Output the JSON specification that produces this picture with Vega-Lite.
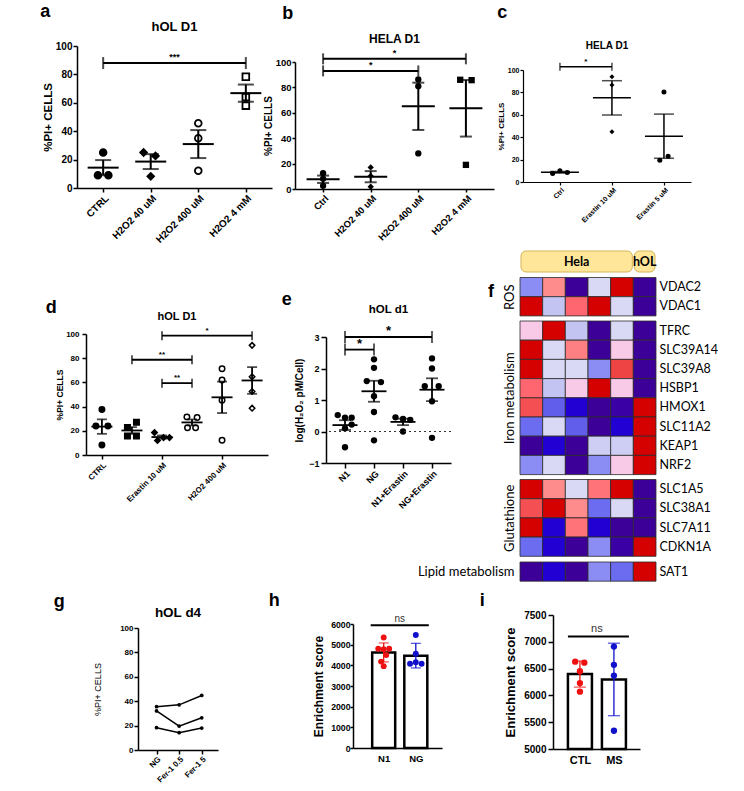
{
"$schema":"https://vega.github.io/schema/vega-lite/v6.json",
"padding":0,
"background":"white",
"spacing":3,
"vconcat":[
{"spacing":-10,"hconcat":[
 {"width":50,"height":1,"data":{"values":[]},"mark":"point"},
 {"spacing":0,"vconcat":[
  {"width":1,"height":3,"data":{"values":[]},"mark":"point"},
  {"title":{"text":"a","anchor":"start","fontSize":18,"dx":-2,"offset":0},"spacing":0,"vconcat":[
   {"title":{"text":"hOL D1","fontSize":13,"offset":7},
    "width":195,"height":142,
    "data":{"values":[
     {"g":"CTRL","i":1,"xp":1,"v":25},{"g":"CTRL","i":1,"xp":0.89,"v":9},{"g":"CTRL","i":1,"xp":1.11,"v":9},
     {"g":"H2O2 40 uM","i":2,"xp":1.85,"v":25},{"g":"H2O2 40 uM","i":2,"xp":2.1,"v":22.6},{"g":"H2O2 40 uM","i":2,"xp":2,"v":8.2},
     {"g":"H2O2 400 uM","i":3,"xp":3,"v":45.6},{"g":"H2O2 400 uM","i":3,"xp":3,"v":35},{"g":"H2O2 400 uM","i":3,"xp":3,"v":12.2},
     {"g":"H2O2 4 mM","i":4,"xp":4,"v":78.4},{"g":"H2O2 4 mM","i":4,"xp":4,"v":64},{"g":"H2O2 4 mM","i":4,"xp":4,"v":58}
    ]},
    "layer":[
     {"mark":{"type":"point","filled":true,"size":45,"stroke":"black","strokeWidth":1.8,"opacity":1},
      "encoding":{
       "x":{"field":"xp","type":"quantitative","scale":{"domain":[0.45,4.55],"nice":false,"zero":false},
            "axis":{"values":[1,2,3,4],"labelExpr":"['CTRL','H2O2 40 uM','H2O2 400 uM','H2O2 4 mM'][datum.value-1]","labelAngle":-45,"labelAlign":"right","labelBaseline":"top","labelFontSize":10,"title":null,"tickSize":4,"labelPadding":1,"domainWidth":1.5,"tickWidth":1.5}},
       "y":{"field":"v","type":"quantitative","scale":{"domain":[0,100],"nice":false},
            "axis":{"values":[0,20,40,60,80,100],"title":"%PI+ CELLS","labelOverlap":false,"labelFontSize":10,"titleFontSize":11.5,"tickSize":4,"labelPadding":1,"titlePadding":2,"domainWidth":1.5,"tickWidth":1.5}},
       "shape":{"field":"g","type":"nominal","scale":{"domain":["CTRL","H2O2 40 uM","H2O2 400 uM","H2O2 4 mM"],"range":["circle","diamond","circle","square"]},"legend":null},
       "fill":{"field":"g","type":"nominal","scale":{"domain":["CTRL","H2O2 40 uM","H2O2 400 uM","H2O2 4 mM"],"range":["black","black","white","white"]},"legend":null}}},
     {"mark":{"type":"errorbar","extent":"stderr","orient":"vertical","ticks":{"size":16},"thickness":2,"color":"black"},
      "encoding":{"x":{"field":"i","type":"quantitative","title":null},"y":{"field":"v","type":"quantitative","axis":{"values":[0,20,40,60,80,100],"title":"%PI+ CELLS","labelOverlap":false,"labelFontSize":10,"titleFontSize":11.5,"tickSize":4,"labelPadding":1,"titlePadding":2,"domainWidth":1.5,"tickWidth":1.5}}}},
     {"mark":{"type":"tick","orient":"horizontal","size":31,"thickness":2,"color":"black"},
      "encoding":{"x":{"field":"i","type":"quantitative","title":null},"y":{"field":"v","aggregate":"mean","type":"quantitative","axis":{"values":[0,20,40,60,80,100],"title":"%PI+ CELLS","labelOverlap":false,"labelFontSize":10,"titleFontSize":11.5,"tickSize":4,"labelPadding":1,"titlePadding":2,"domainWidth":1.5,"tickWidth":1.5}}}},
     {"data":{"values":[{"x1":1,"x2":4,"y":88,"lab":"***"}]},"layer":[
      {"mark":{"type":"rule","strokeWidth":2,"color":"black"},"encoding":{"x":{"field":"x1","type":"quantitative","title":null},"x2":{"field":"x2"},"y":{"field":"y","type":"quantitative","axis":{"values":[0,20,40,60,80,100],"title":"%PI+ CELLS","labelOverlap":false,"labelFontSize":10,"titleFontSize":11.5,"tickSize":4,"labelPadding":1,"titlePadding":2,"domainWidth":1.5,"tickWidth":1.5}}}},
      {"transform":[{"fold":["x1","x2"],"as":["k","xv"]}],"mark":{"type":"tick","orient":"vertical","size":12,"thickness":2,"color":"black"},"encoding":{"x":{"field":"xv","type":"quantitative","title":null},"y":{"field":"y","type":"quantitative","axis":{"values":[0,20,40,60,80,100],"title":"%PI+ CELLS","labelOverlap":false,"labelFontSize":10,"titleFontSize":11.5,"tickSize":4,"labelPadding":1,"titlePadding":2,"domainWidth":1.5,"tickWidth":1.5}}}},
      {"transform":[{"fold":["x1","x2"],"as":["k","xv"]},{"aggregate":[{"op":"mean","field":"xv","as":"xm"}],"groupby":["y","lab"]}],"mark":{"type":"text","baseline":"bottom","dy":-1,"fontSize":9,"fontWeight":"bold","color":"black"},"encoding":{"x":{"field":"xm","type":"quantitative","title":null},"y":{"field":"y","type":"quantitative","axis":{"values":[0,20,40,60,80,100],"title":"%PI+ CELLS","labelOverlap":false,"labelFontSize":10,"titleFontSize":11.5,"tickSize":4,"labelPadding":1,"titlePadding":2,"domainWidth":1.5,"tickWidth":1.5}},"text":{"field":"lab"}}}
     ]}
    ]}
  ]}
 ]},
 {"width":1,"height":1,"data":{"values":[]},"mark":"point"},
 {"spacing":0,"vconcat":[
  {"width":1,"height":4,"data":{"values":[]},"mark":"point"},
  {"title":{"text":"b","anchor":"start","fontSize":18,"dx":19,"offset":10},"spacing":0,"vconcat":[
   {"title":{"text":"HELA D1","fontSize":12,"offset":3},
    "width":199,"height":127,
    "data":{"values":[
     {"g":"Ctrl","i":1,"xp":1,"v":12.5},{"g":"Ctrl","i":1,"xp":1,"v":8},{"g":"Ctrl","i":1,"xp":1,"v":2.5},
     {"g":"H2O2 40 uM","i":2,"xp":2,"v":17},{"g":"H2O2 40 uM","i":2,"xp":2,"v":10.3},{"g":"H2O2 40 uM","i":2,"xp":2,"v":1.8},
     {"g":"H2O2 400 uM","i":3,"xp":3,"v":86.3},{"g":"H2O2 400 uM","i":3,"xp":3,"v":81},{"g":"H2O2 400 uM","i":3,"xp":3,"v":28},
     {"g":"H2O2 4 mM","i":4,"xp":3.88,"v":86},{"g":"H2O2 4 mM","i":4,"xp":4.12,"v":85.7},{"g":"H2O2 4 mM","i":4,"xp":4,"v":19}
    ]},
    "layer":[
     {"mark":{"type":"point","filled":true,"size":40,"color":"black","opacity":1},
      "encoding":{
       "x":{"field":"xp","type":"quantitative","scale":{"domain":[0.41,4.59],"nice":false,"zero":false},
            "axis":{"values":[1,2,3,4],"labelExpr":"['Ctrl','H2O2 40 uM','H2O2 400 uM','H2O2 4 mM'][datum.value-1]","labelAngle":-45,"labelAlign":"right","labelBaseline":"top","labelFontSize":9.5,"title":null,"tickSize":3,"labelPadding":1,"domainWidth":1.5,"tickWidth":1.5}},
       "y":{"field":"v","type":"quantitative","scale":{"domain":[0,100],"nice":false},
            "axis":{"values":[0,20,40,60,80,100],"title":"%PI+ CELLS","labelOverlap":false,"labelFontSize":9.5,"titleFontSize":10,"tickSize":3,"labelPadding":1,"titlePadding":2,"domainWidth":1.5,"tickWidth":1.5}},
       "shape":{"field":"g","type":"nominal","scale":{"domain":["Ctrl","H2O2 40 uM","H2O2 400 uM","H2O2 4 mM"],"range":["circle","square","triangle-up","triangle-down"]},"legend":null}}},
     {"mark":{"type":"errorbar","extent":"stderr","orient":"vertical","ticks":{"size":12},"thickness":2,"color":"black"},
      "encoding":{"x":{"field":"i","type":"quantitative","title":null},"y":{"field":"v","type":"quantitative","axis":{"values":[0,20,40,60,80,100],"title":"%PI+ CELLS","labelOverlap":false,"labelFontSize":9.5,"titleFontSize":10,"tickSize":3,"labelPadding":1,"titlePadding":2,"domainWidth":1.5,"tickWidth":1.5}}}},
     {"mark":{"type":"tick","orient":"horizontal","size":33,"thickness":2,"color":"black"},
      "encoding":{"x":{"field":"i","type":"quantitative","title":null},"y":{"field":"v","aggregate":"mean","type":"quantitative","axis":{"values":[0,20,40,60,80,100],"title":"%PI+ CELLS","labelOverlap":false,"labelFontSize":9.5,"titleFontSize":10,"tickSize":3,"labelPadding":1,"titlePadding":2,"domainWidth":1.5,"tickWidth":1.5}}}},
     {"data":{"values":[{"x1":1,"x2":4,"y":102.5,"lab":"*"},{"x1":1,"x2":3,"y":93,"lab":"*"}]},"layer":[
      {"mark":{"type":"rule","strokeWidth":2,"color":"black"},"encoding":{"x":{"field":"x1","type":"quantitative","title":null},"x2":{"field":"x2"},"y":{"field":"y","type":"quantitative","axis":{"values":[0,20,40,60,80,100],"title":"%PI+ CELLS","labelOverlap":false,"labelFontSize":9.5,"titleFontSize":10,"tickSize":3,"labelPadding":1,"titlePadding":2,"domainWidth":1.5,"tickWidth":1.5}}}},
      {"transform":[{"fold":["x1","x2"],"as":["k","xv"]}],"mark":{"type":"tick","orient":"vertical","size":11,"thickness":2,"color":"black"},"encoding":{"x":{"field":"xv","type":"quantitative","title":null},"y":{"field":"y","type":"quantitative","axis":{"values":[0,20,40,60,80,100],"title":"%PI+ CELLS","labelOverlap":false,"labelFontSize":9.5,"titleFontSize":10,"tickSize":3,"labelPadding":1,"titlePadding":2,"domainWidth":1.5,"tickWidth":1.5}}}},
      {"transform":[{"fold":["x1","x2"],"as":["k","xv"]},{"aggregate":[{"op":"mean","field":"xv","as":"xm"}],"groupby":["y","lab"]}],"mark":{"type":"text","baseline":"bottom","dy":-1,"fontSize":9,"fontWeight":"bold","color":"black"},"encoding":{"x":{"field":"xm","type":"quantitative","title":null},"y":{"field":"y","type":"quantitative","axis":{"values":[0,20,40,60,80,100],"title":"%PI+ CELLS","labelOverlap":false,"labelFontSize":9.5,"titleFontSize":10,"tickSize":3,"labelPadding":1,"titlePadding":2,"domainWidth":1.5,"tickWidth":1.5}},"text":{"field":"lab"}}}
     ]}
    ]}
  ]}
 ]},
 {"width":13,"height":1,"data":{"values":[]},"mark":"point"},
 {"spacing":0,"vconcat":[
  {"width":1,"height":3,"data":{"values":[]},"mark":"point"},
  {"title":{"text":"c","anchor":"start","fontSize":18,"dx":0,"offset":19},"spacing":0,"vconcat":[
   {"title":{"text":"HELA D1","fontSize":10,"offset":7},
    "width":168,"height":112,
    "data":{"values":[
     {"g":"Ctrl","i":1,"xp":0.86,"v":7.5},{"g":"Ctrl","i":1,"xp":1,"v":10},{"g":"Ctrl","i":1,"xp":1.14,"v":8.5},
     {"g":"Erastin 10 uM","i":2,"xp":2,"v":94},{"g":"Erastin 10 uM","i":2,"xp":2,"v":86.6},{"g":"Erastin 10 uM","i":2,"xp":2,"v":44.8},
     {"g":"Erastin 5 uM","i":3,"xp":3,"v":80.3},{"g":"Erastin 5 uM","i":3,"xp":3.08,"v":23},{"g":"Erastin 5 uM","i":3,"xp":2.92,"v":19.4}
    ]},
    "layer":[
     {"mark":{"type":"point","filled":true,"size":25,"color":"black","opacity":1},
      "encoding":{
       "x":{"field":"xp","type":"quantitative","scale":{"domain":[0.29,3.52],"nice":false,"zero":false},
            "axis":{"values":[1,2,3],"labelExpr":"['Ctrl','Erastin 10 uM','Erastin 5 uM'][datum.value-1]","labelAngle":-45,"labelAlign":"right","labelBaseline":"top","labelFontSize":7,"title":null,"tickSize":3,"labelPadding":1,"domainWidth":1.2,"tickWidth":1.2}},
       "y":{"field":"v","type":"quantitative","scale":{"domain":[0,100],"nice":false},
            "axis":{"values":[0,20,40,60,80,100],"title":"%PI+ CELLS","labelOverlap":false,"labelFontSize":7,"titleFontSize":8,"tickSize":3,"labelPadding":1,"titlePadding":2,"domainWidth":1.2,"tickWidth":1.2}},
       "shape":{"field":"g","type":"nominal","scale":{"domain":["Ctrl","Erastin 10 uM","Erastin 5 uM"],"range":["circle","triangle-up","triangle-down"]},"legend":null}}},
     {"mark":{"type":"errorbar","extent":"stderr","orient":"vertical","ticks":{"size":20},"thickness":1.5,"color":"black"},
      "encoding":{"x":{"field":"i","type":"quantitative","title":null},"y":{"field":"v","type":"quantitative","axis":{"values":[0,20,40,60,80,100],"title":"%PI+ CELLS","labelOverlap":false,"labelFontSize":7,"titleFontSize":8,"tickSize":3,"labelPadding":1,"titlePadding":2,"domainWidth":1.2,"tickWidth":1.2}}}},
     {"mark":{"type":"tick","orient":"horizontal","size":38,"thickness":1.5,"color":"black"},
      "encoding":{"x":{"field":"i","type":"quantitative","title":null},"y":{"field":"v","aggregate":"mean","type":"quantitative","axis":{"values":[0,20,40,60,80,100],"title":"%PI+ CELLS","labelOverlap":false,"labelFontSize":7,"titleFontSize":8,"tickSize":3,"labelPadding":1,"titlePadding":2,"domainWidth":1.2,"tickWidth":1.2}}}},
     {"data":{"values":[{"x1":1,"x2":2,"y":103,"lab":"*"}]},"layer":[
      {"mark":{"type":"rule","strokeWidth":1.5,"color":"black"},"encoding":{"x":{"field":"x1","type":"quantitative","title":null},"x2":{"field":"x2"},"y":{"field":"y","type":"quantitative","axis":{"values":[0,20,40,60,80,100],"title":"%PI+ CELLS","labelOverlap":false,"labelFontSize":7,"titleFontSize":8,"tickSize":3,"labelPadding":1,"titlePadding":2,"domainWidth":1.2,"tickWidth":1.2}}}},
      {"transform":[{"fold":["x1","x2"],"as":["k","xv"]}],"mark":{"type":"tick","orient":"vertical","size":8,"thickness":1.5,"color":"black"},"encoding":{"x":{"field":"xv","type":"quantitative","title":null},"y":{"field":"y","type":"quantitative","axis":{"values":[0,20,40,60,80,100],"title":"%PI+ CELLS","labelOverlap":false,"labelFontSize":7,"titleFontSize":8,"tickSize":3,"labelPadding":1,"titlePadding":2,"domainWidth":1.2,"tickWidth":1.2}}}},
      {"transform":[{"fold":["x1","x2"],"as":["k","xv"]},{"aggregate":[{"op":"mean","field":"xv","as":"xm"}],"groupby":["y","lab"]}],"mark":{"type":"text","baseline":"bottom","dy":-1,"fontSize":8,"fontWeight":"bold","color":"black"},"encoding":{"x":{"field":"xm","type":"quantitative","title":null},"y":{"field":"y","type":"quantitative","axis":{"values":[0,20,40,60,80,100],"title":"%PI+ CELLS","labelOverlap":false,"labelFontSize":7,"titleFontSize":8,"tickSize":3,"labelPadding":1,"titlePadding":2,"domainWidth":1.2,"tickWidth":1.2}},"text":{"field":"lab"}}}
     ]}
    ]}
  ]}
 ]}
]},
{"spacing":-35,"hconcat":[
 {"width":80,"height":1,"data":{"values":[]},"mark":"point"},
 {"spacing":0,"vconcat":[
  {"width":1,"height":50,"data":{"values":[]},"mark":"point"},
  {"title":{"text":"d","anchor":"start","fontSize":18,"dx":-10,"offset":-6},"spacing":0,"vconcat":[
   {"title":{"text":"hOL D1","fontSize":11,"offset":5},
    "width":182,"height":121,
    "data":{"values":[
     {"g":"CTRL","i":1,"xp":1,"v":37.6},{"g":"CTRL","i":1,"xp":0.8,"v":24},{"g":"CTRL","i":1,"xp":1.2,"v":24},{"g":"CTRL","i":1,"xp":1,"v":8.3},
     {"g":"NG","i":2,"xp":2.15,"v":27},{"g":"NG","i":2,"xp":1.85,"v":22.7},{"g":"NG","i":2,"xp":1.85,"v":15.7},{"g":"NG","i":2,"xp":2.15,"v":15.7},
     {"g":"Erastin 10 uM","i":3,"xp":2.75,"v":18.5},{"g":"Erastin 10 uM","i":3,"xp":2.85,"v":12},{"g":"Erastin 10 uM","i":3,"xp":3.05,"v":14.4},{"g":"Erastin 10 uM","i":3,"xp":3.25,"v":14.4},
     {"g":"NG+Erastin 10 uM","i":4,"xp":3.83,"v":31.5},{"g":"NG+Erastin 10 uM","i":4,"xp":4.17,"v":31},{"g":"NG+Erastin 10 uM","i":4,"xp":3.85,"v":22.6},{"g":"NG+Erastin 10 uM","i":4,"xp":4.12,"v":22.6},
     {"g":"H2O2 400 uM","i":5,"xp":5,"v":71.3},{"g":"H2O2 400 uM","i":5,"xp":5,"v":61.9},{"g":"H2O2 400 uM","i":5,"xp":5,"v":45.3},{"g":"H2O2 400 uM","i":5,"xp":5,"v":12.2},
     {"g":"Erastin 10 uM+H2O2 400 uM","i":6,"xp":6,"v":90.6},{"g":"Erastin 10 uM+H2O2 400 uM","i":6,"xp":6,"v":64.6},{"g":"Erastin 10 uM+H2O2 400 uM","i":6,"xp":6,"v":52.5},{"g":"Erastin 10 uM+H2O2 400 uM","i":6,"xp":6,"v":38.7}
    ]},
    "layer":[
     {"mark":{"type":"point","filled":true,"size":30,"stroke":"black","strokeWidth":1.5,"opacity":1},
      "encoding":{
       "x":{"field":"xp","type":"quantitative","scale":{"domain":[0.47,6.53],"nice":false,"zero":false},
            "axis":{"values":[1,2,3,4,5,6],"labelExpr":"['CTRL','NG','Erastin 10 uM','NG+Erastin 10 uM','H2O2 400 uM','Erastin 10 uM+H2O2 400 uM'][datum.value-1]","labelAngle":-45,"labelAlign":"right","labelBaseline":"top","labelFontSize":8,"title":null,"tickSize":4,"labelPadding":2,"domainWidth":1.5,"tickWidth":1.5}},
       "y":{"field":"v","type":"quantitative","scale":{"domain":[0,100],"nice":false},
            "axis":{"values":[0,20,40,60,80,100],"title":"%PI+ CELLS","labelOverlap":false,"labelFontSize":8,"titleFontSize":8.5,"tickSize":4,"labelPadding":3,"titlePadding":1,"domainWidth":1.5,"tickWidth":1.5}},
       "shape":{"field":"g","type":"nominal","scale":{"domain":["CTRL","NG","Erastin 10 uM","NG+Erastin 10 uM","H2O2 400 uM","Erastin 10 uM+H2O2 400 uM"],"range":["circle","square","triangle-up","triangle-down","diamond","circle"]},"legend":null},
       "fill":{"field":"g","type":"nominal","scale":{"domain":["CTRL","NG","Erastin 10 uM","NG+Erastin 10 uM","H2O2 400 uM","Erastin 10 uM+H2O2 400 uM"],"range":["black","black","black","black","black","white"]},"legend":null}}},
     {"mark":{"type":"errorbar","extent":"stderr","orient":"vertical","ticks":{"size":10},"thickness":1.8,"color":"black"},
      "encoding":{"x":{"field":"i","type":"quantitative","title":null},"y":{"field":"v","type":"quantitative","axis":{"values":[0,20,40,60,80,100],"title":"%PI+ CELLS","labelOverlap":false,"labelFontSize":8,"titleFontSize":8.5,"tickSize":4,"labelPadding":3,"titlePadding":1,"domainWidth":1.5,"tickWidth":1.5}}}},
     {"mark":{"type":"tick","orient":"horizontal","size":21,"thickness":1.8,"color":"black"},
      "encoding":{"x":{"field":"i","type":"quantitative","title":null},"y":{"field":"v","aggregate":"mean","type":"quantitative","axis":{"values":[0,20,40,60,80,100],"title":"%PI+ CELLS","labelOverlap":false,"labelFontSize":8,"titleFontSize":8.5,"tickSize":4,"labelPadding":3,"titlePadding":1,"domainWidth":1.5,"tickWidth":1.5}}}},
     {"data":{"values":[{"x1":3,"x2":6,"y":98.6,"lab":"*"},{"x1":2,"x2":4,"y":78.7,"lab":"**"},{"x1":3,"x2":4,"y":59.4,"lab":"**"}]},"layer":[
      {"mark":{"type":"rule","strokeWidth":1.8,"color":"black"},"encoding":{"x":{"field":"x1","type":"quantitative","title":null},"x2":{"field":"x2"},"y":{"field":"y","type":"quantitative","axis":{"values":[0,20,40,60,80,100],"title":"%PI+ CELLS","labelOverlap":false,"labelFontSize":8,"titleFontSize":8.5,"tickSize":4,"labelPadding":3,"titlePadding":1,"domainWidth":1.5,"tickWidth":1.5}}}},
      {"transform":[{"fold":["x1","x2"],"as":["k","xv"]}],"mark":{"type":"tick","orient":"vertical","size":9,"thickness":1.8,"color":"black"},"encoding":{"x":{"field":"xv","type":"quantitative","title":null},"y":{"field":"y","type":"quantitative","axis":{"values":[0,20,40,60,80,100],"title":"%PI+ CELLS","labelOverlap":false,"labelFontSize":8,"titleFontSize":8.5,"tickSize":4,"labelPadding":3,"titlePadding":1,"domainWidth":1.5,"tickWidth":1.5}}}},
      {"transform":[{"fold":["x1","x2"],"as":["k","xv"]},{"aggregate":[{"op":"mean","field":"xv","as":"xm"}],"groupby":["y","lab"]}],"mark":{"type":"text","baseline":"bottom","dy":-1,"fontSize":8,"fontWeight":"bold","color":"black"},"encoding":{"x":{"field":"xm","type":"quantitative","title":null},"y":{"field":"y","type":"quantitative","axis":{"values":[0,20,40,60,80,100],"title":"%PI+ CELLS","labelOverlap":false,"labelFontSize":8,"titleFontSize":8.5,"tickSize":4,"labelPadding":3,"titlePadding":1,"domainWidth":1.5,"tickWidth":1.5}},"text":{"field":"lab"}}}
     ]}
    ]}
  ]}
 ]},
 {"width":48,"height":1,"data":{"values":[]},"mark":"point"},
 {"spacing":0,"vconcat":[
  {"width":1,"height":42,"data":{"values":[]},"mark":"point"},
  {"title":{"text":"e","anchor":"start","fontSize":18,"dx":-13,"offset":-5},"spacing":0,"vconcat":[
   {"title":{"text":"hOL d1","fontSize":11.5,"offset":10},
    "width":125,"height":126,
    "data":{"values":[
     {"g":"N1","i":1,"xp":0.75,"v":0.52},{"g":"N1","i":1,"xp":1,"v":0.44},{"g":"N1","i":1,"xp":1.23,"v":0.44},{"g":"N1","i":1,"xp":1.23,"v":0.22},{"g":"N1","i":1,"xp":1,"v":0.1},{"g":"N1","i":1,"xp":1,"v":-0.5},
     {"g":"NG","i":2,"xp":2,"v":2.29},{"g":"NG","i":2,"xp":2,"v":2.02},{"g":"NG","i":2,"xp":1.75,"v":1.6},{"g":"NG","i":2,"xp":2.24,"v":1.57},{"g":"NG","i":2,"xp":2,"v":1.12},{"g":"NG","i":2,"xp":2,"v":0.62},{"g":"NG","i":2,"xp":2,"v":-0.28},
     {"g":"N1+Erastin","i":3,"xp":2.74,"v":0.45},{"g":"N1+Erastin","i":3,"xp":3,"v":0.4},{"g":"N1+Erastin","i":3,"xp":3.25,"v":0.37},{"g":"N1+Erastin","i":3,"xp":3,"v":0.0},
     {"g":"NG+Erastin","i":4,"xp":4,"v":2.32},{"g":"NG+Erastin","i":4,"xp":4,"v":2.0},{"g":"NG+Erastin","i":4,"xp":3.75,"v":1.44},{"g":"NG+Erastin","i":4,"xp":4.23,"v":1.44},{"g":"NG+Erastin","i":4,"xp":4,"v":0.96},{"g":"NG+Erastin","i":4,"xp":4,"v":-0.2}
    ]},
    "layer":[
     {"mark":{"type":"point","filled":true,"size":40,"color":"black","opacity":1},
      "encoding":{
       "x":{"field":"xp","type":"quantitative","scale":{"domain":[0.345,4.655],"nice":false,"zero":false},
            "axis":{"values":[1,2,3,4],"labelExpr":"['N1','NG','N1+Erastin','NG+Erastin'][datum.value-1]","labelAngle":-45,"labelAlign":"right","labelBaseline":"top","labelFontSize":9,"title":null,"tickSize":5,"labelPadding":1,"domainWidth":1.5,"tickWidth":1.5}},
       "y":{"field":"v","type":"quantitative","scale":{"domain":[-1,3],"nice":false,"zero":false},
            "axis":{"values":[-1,0,1,2,3],"title":"log(H₂O₂ pM/Cell)","labelOverlap":false,"labelFontSize":9,"titleFontSize":10,"tickSize":5,"labelPadding":2,"titlePadding":4,"domainWidth":1.5,"tickWidth":1.5}}}},
     {"mark":{"type":"rule","strokeDash":[2,3],"strokeWidth":1.2,"color":"#333333"},"encoding":{"y":{"datum":0,"type":"quantitative","axis":{"values":[-1,0,1,2,3],"title":"log(H₂O₂ pM/Cell)","labelOverlap":false,"labelFontSize":9,"titleFontSize":10,"tickSize":5,"labelPadding":2,"titlePadding":4,"domainWidth":1.5,"tickWidth":1.5}}}},
     {"mark":{"type":"errorbar","extent":"stderr","orient":"vertical","ticks":{"size":12},"thickness":1.8,"color":"black"},
      "encoding":{"x":{"field":"i","type":"quantitative","title":null},"y":{"field":"v","type":"quantitative","axis":{"values":[-1,0,1,2,3],"title":"log(H₂O₂ pM/Cell)","labelOverlap":false,"labelFontSize":9,"titleFontSize":10,"tickSize":5,"labelPadding":2,"titlePadding":4,"domainWidth":1.5,"tickWidth":1.5}}}},
     {"mark":{"type":"tick","orient":"horizontal","size":25,"thickness":1.8,"color":"black"},
      "encoding":{"x":{"field":"i","type":"quantitative","title":null},"y":{"field":"v","aggregate":"mean","type":"quantitative","axis":{"values":[-1,0,1,2,3],"title":"log(H₂O₂ pM/Cell)","labelOverlap":false,"labelFontSize":9,"titleFontSize":10,"tickSize":5,"labelPadding":2,"titlePadding":4,"domainWidth":1.5,"tickWidth":1.5}}}},
     {"data":{"values":[{"x1":1,"x2":4,"y":3.0,"lab":"*"},{"x1":1,"x2":2,"y":2.6,"lab":"*"}]},"layer":[
      {"mark":{"type":"rule","strokeWidth":1.8,"color":"black"},"encoding":{"x":{"field":"x1","type":"quantitative","title":null},"x2":{"field":"x2"},"y":{"field":"y","type":"quantitative","axis":{"values":[-1,0,1,2,3],"title":"log(H₂O₂ pM/Cell)","labelOverlap":false,"labelFontSize":9,"titleFontSize":10,"tickSize":5,"labelPadding":2,"titlePadding":4,"domainWidth":1.5,"tickWidth":1.5}}}},
      {"transform":[{"fold":["x1","x2"],"as":["k","xv"]}],"mark":{"type":"tick","orient":"vertical","size":12,"thickness":1.8,"color":"black"},"encoding":{"x":{"field":"xv","type":"quantitative","title":null},"y":{"field":"y","type":"quantitative","axis":{"values":[-1,0,1,2,3],"title":"log(H₂O₂ pM/Cell)","labelOverlap":false,"labelFontSize":9,"titleFontSize":10,"tickSize":5,"labelPadding":2,"titlePadding":4,"domainWidth":1.5,"tickWidth":1.5}}}},
      {"transform":[{"fold":["x1","x2"],"as":["k","xv"]},{"aggregate":[{"op":"mean","field":"xv","as":"xm"}],"groupby":["y","lab"]}],"mark":{"type":"text","baseline":"middle","dy":-6,"fontSize":13,"fontWeight":"bold","color":"black"},"encoding":{"x":{"field":"xm","type":"quantitative","title":null},"y":{"field":"y","type":"quantitative","axis":{"values":[-1,0,1,2,3],"title":"log(H₂O₂ pM/Cell)","labelOverlap":false,"labelFontSize":9,"titleFontSize":10,"tickSize":5,"labelPadding":2,"titlePadding":4,"domainWidth":1.5,"tickWidth":1.5}},"text":{"field":"lab"}}}
     ]}
    ]}
  ]}
 ]},
 {"spacing":0,"vconcat":[
  {"width":1,"height":2,"data":{"values":[]},"mark":"point"},
  {"spacing":3.5,"vconcat":[
   {"width":136,"height":21,
    "layer":[
     {"data":{"values":[{"grp":"Hela","first":"1","last":"5"},{"grp":"hOL","first":"6","last":"6"}]},
      "mark":{"type":"rect","cornerRadius":5,"fill":"#FFE699","stroke":"#D4B45A","strokeWidth":1,"xOffset":1,"x2Offset":-1},
      "encoding":{"x":{"field":"first","type":"ordinal","bandPosition":0,"scale":{"domain":["1","2","3","4","5","6"],"paddingInner":0,"paddingOuter":0},"axis":null},"x2":{"field":"last","bandPosition":1}}},
     {"data":{"values":[{"grp":"Hela","mid":"3"},{"grp":"hOL","mid":"6"}]},
      "mark":{"type":"text","font":"Lato","fontWeight":"bold","fontSize":12.5,"color":"black"},
      "encoding":{"x":{"field":"mid","type":"ordinal","axis":null},"text":{"field":"grp"}}}
    ]},
   {"height":{"step":19.2},"width":136,
    "title":{"text":"f","orient":"left","anchor":"end","angle":0,"align":"right","baseline":"top","fontSize":18,"offset":3,"dy":6},
    "data":{"values":[
     {"gene":"VDAC2","c":"1","v":-0.8},{"gene":"VDAC2","c":"2","v":1.0},{"gene":"VDAC2","c":"3","v":-2},{"gene":"VDAC2","c":"4","v":-0.2},{"gene":"VDAC2","c":"5","v":2},{"gene":"VDAC2","c":"6","v":-2},
     {"gene":"VDAC1","c":"1","v":2},{"gene":"VDAC1","c":"2","v":-0.4},{"gene":"VDAC1","c":"3","v":1.3},{"gene":"VDAC1","c":"4","v":2},{"gene":"VDAC1","c":"5","v":-0.2},{"gene":"VDAC1","c":"6","v":-2}
    ]},
    "layer":[
     {"mark":{"type":"rect","stroke":"#2b2b2b","strokeWidth":0.8},
      "encoding":{"x":{"field":"c","type":"ordinal","axis":null},
       "y":{"field":"gene","type":"nominal","sort":null,"axis":{"orient":"right","title":null,"domain":false,"ticks":false,"labelFont":"Lato","labelFontWeight":"normal","labelFontSize":12.5,"labelPadding":3}},
       "color":{"field":"v","type":"quantitative","scale":{"domain":[-2,-1.6,-1,-0.8,-0.4,-0.2,0.4,1,1.3,1.6,2],"range":["#3C0098","#2200D4","#6C6CF0","#8C8CF5","#C4C4F2","#D9D9F6","#F9C9E8","#FF8C8C","#FF6670","#EE4444","#D50000"]},"legend":null}}},
     {"mark":{"type":"rect","opacity":0},
      "encoding":{"x":{"field":"c","type":"ordinal","axis":null},
       "y":{"field":"gene","type":"nominal","sort":null,"axis":{"orient":"left","title":"ROS","labels":false,"domain":false,"ticks":false,"titleFont":"Lato","titleFontWeight":"normal","titleFontSize":13,"titlePadding":4}}}}
    ],
    "resolve":{"axis":{"y":"independent"}}},
   {"height":{"step":19.2},"width":136,
    "data":{"values":[
     {"gene":"TFRC","c":"1","v":0.4},{"gene":"TFRC","c":"2","v":2},{"gene":"TFRC","c":"3","v":-0.4},{"gene":"TFRC","c":"4","v":-2},{"gene":"TFRC","c":"5","v":-0.2},{"gene":"TFRC","c":"6","v":-2},
     {"gene":"SLC39A14","c":"1","v":2},{"gene":"SLC39A14","c":"2","v":-0.2},{"gene":"SLC39A14","c":"3","v":1.1},{"gene":"SLC39A14","c":"4","v":-2},{"gene":"SLC39A14","c":"5","v":0.4},{"gene":"SLC39A14","c":"6","v":-2},
     {"gene":"SLC39A8","c":"1","v":2},{"gene":"SLC39A8","c":"2","v":-0.2},{"gene":"SLC39A8","c":"3","v":-0.2},{"gene":"SLC39A8","c":"4","v":-0.8},{"gene":"SLC39A8","c":"5","v":1.6},{"gene":"SLC39A8","c":"6","v":-2},
     {"gene":"HSBP1","c":"1","v":1.3},{"gene":"HSBP1","c":"2","v":-0.4},{"gene":"HSBP1","c":"3","v":0.4},{"gene":"HSBP1","c":"4","v":2},{"gene":"HSBP1","c":"5","v":0.4},{"gene":"HSBP1","c":"6","v":-2},
     {"gene":"HMOX1","c":"1","v":1.5},{"gene":"HMOX1","c":"2","v":-1.1},{"gene":"HMOX1","c":"3","v":-1.6},{"gene":"HMOX1","c":"4","v":-2},{"gene":"HMOX1","c":"5","v":-1.9},{"gene":"HMOX1","c":"6","v":2},
     {"gene":"SLC11A2","c":"1","v":-1},{"gene":"SLC11A2","c":"2","v":-0.2},{"gene":"SLC11A2","c":"3","v":-1.1},{"gene":"SLC11A2","c":"4","v":-2},{"gene":"SLC11A2","c":"5","v":-1.6},{"gene":"SLC11A2","c":"6","v":2},
     {"gene":"KEAP1","c":"1","v":-2},{"gene":"KEAP1","c":"2","v":-1.6},{"gene":"KEAP1","c":"3","v":-2},{"gene":"KEAP1","c":"4","v":-0.3},{"gene":"KEAP1","c":"5","v":-0.3},{"gene":"KEAP1","c":"6","v":2},
     {"gene":"NRF2","c":"1","v":-0.8},{"gene":"NRF2","c":"2","v":-0.2},{"gene":"NRF2","c":"3","v":-2},{"gene":"NRF2","c":"4","v":-0.8},{"gene":"NRF2","c":"5","v":0.4},{"gene":"NRF2","c":"6","v":2}
    ]},
    "layer":[
     {"mark":{"type":"rect","stroke":"#2b2b2b","strokeWidth":0.8},
      "encoding":{"x":{"field":"c","type":"ordinal","axis":null},
       "y":{"field":"gene","type":"nominal","sort":null,"axis":{"orient":"right","title":null,"domain":false,"ticks":false,"labelFont":"Lato","labelFontWeight":"normal","labelFontSize":12.5,"labelPadding":3}},
       "color":{"field":"v","type":"quantitative","scale":{"domain":[-2,-1.6,-1,-0.8,-0.4,-0.2,0.4,1,1.3,1.6,2],"range":["#3C0098","#2200D4","#6C6CF0","#8C8CF5","#C4C4F2","#D9D9F6","#F9C9E8","#FF8C8C","#FF6670","#EE4444","#D50000"]},"legend":null}}},
     {"mark":{"type":"rect","opacity":0},
      "encoding":{"x":{"field":"c","type":"ordinal","axis":null},
       "y":{"field":"gene","type":"nominal","sort":null,"axis":{"orient":"left","title":"Iron metabolism","labels":false,"domain":false,"ticks":false,"titleFont":"Lato","titleFontWeight":"normal","titleFontSize":13,"titlePadding":4}}}}
    ],
    "resolve":{"axis":{"y":"independent"}}},
   {"height":{"step":19.2},"width":136,
    "data":{"values":[
     {"gene":"SLC1A5","c":"1","v":2},{"gene":"SLC1A5","c":"2","v":1.0},{"gene":"SLC1A5","c":"3","v":-0.2},{"gene":"SLC1A5","c":"4","v":1.2},{"gene":"SLC1A5","c":"5","v":2},{"gene":"SLC1A5","c":"6","v":-2},
     {"gene":"SLC38A1","c":"1","v":1.5},{"gene":"SLC38A1","c":"2","v":2},{"gene":"SLC38A1","c":"3","v":1.0},{"gene":"SLC38A1","c":"4","v":-1},{"gene":"SLC38A1","c":"5","v":-0.2},{"gene":"SLC38A1","c":"6","v":-2},
     {"gene":"SLC7A11","c":"1","v":2},{"gene":"SLC7A11","c":"2","v":-1.6},{"gene":"SLC7A11","c":"3","v":1.2},{"gene":"SLC7A11","c":"4","v":-1.6},{"gene":"SLC7A11","c":"5","v":-2},{"gene":"SLC7A11","c":"6","v":-2},
     {"gene":"CDKN1A","c":"1","v":-1},{"gene":"CDKN1A","c":"2","v":-1.6},{"gene":"CDKN1A","c":"3","v":-2},{"gene":"CDKN1A","c":"4","v":-0.8},{"gene":"CDKN1A","c":"5","v":-1.9},{"gene":"CDKN1A","c":"6","v":2}
    ]},
    "layer":[
     {"mark":{"type":"rect","stroke":"#2b2b2b","strokeWidth":0.8},
      "encoding":{"x":{"field":"c","type":"ordinal","axis":null},
       "y":{"field":"gene","type":"nominal","sort":null,"axis":{"orient":"right","title":null,"domain":false,"ticks":false,"labelFont":"Lato","labelFontWeight":"normal","labelFontSize":12.5,"labelPadding":3}},
       "color":{"field":"v","type":"quantitative","scale":{"domain":[-2,-1.6,-1,-0.8,-0.4,-0.2,0.4,1,1.3,1.6,2],"range":["#3C0098","#2200D4","#6C6CF0","#8C8CF5","#C4C4F2","#D9D9F6","#F9C9E8","#FF8C8C","#FF6670","#EE4444","#D50000"]},"legend":null}}},
     {"mark":{"type":"rect","opacity":0},
      "encoding":{"x":{"field":"c","type":"ordinal","axis":null},
       "y":{"field":"gene","type":"nominal","sort":null,"axis":{"orient":"left","title":"Glutathione","labels":false,"domain":false,"ticks":false,"titleFont":"Lato","titleFontWeight":"normal","titleFontSize":13,"titlePadding":4}}}}
    ],
    "resolve":{"axis":{"y":"independent"}}},
   {"height":{"step":19.2},"width":136,
    "data":{"values":[
     {"gene":"SAT1","c":"1","v":-2},{"gene":"SAT1","c":"2","v":-1.6},{"gene":"SAT1","c":"3","v":-2},{"gene":"SAT1","c":"4","v":-0.8},{"gene":"SAT1","c":"5","v":-1},{"gene":"SAT1","c":"6","v":2}
    ]},
    "layer":[
     {"mark":{"type":"rect","stroke":"#2b2b2b","strokeWidth":0.8},
      "encoding":{"x":{"field":"c","type":"ordinal","axis":null},
       "y":{"field":"gene","type":"nominal","sort":null,"axis":{"orient":"right","title":null,"domain":false,"ticks":false,"labelFont":"Lato","labelFontWeight":"normal","labelFontSize":12.5,"labelPadding":3}},
       "color":{"field":"v","type":"quantitative","scale":{"domain":[-2,-1.6,-1,-0.8,-0.4,-0.2,0.4,1,1.3,1.6,2],"range":["#3C0098","#2200D4","#6C6CF0","#8C8CF5","#C4C4F2","#D9D9F6","#F9C9E8","#FF8C8C","#FF6670","#EE4444","#D50000"]},"legend":null}}},
     {"mark":{"type":"rect","opacity":0},
      "encoding":{"x":{"field":"c","type":"ordinal","axis":null},
       "y":{"field":"gene","type":"nominal","sort":null,"axis":{"orient":"left","title":"Lipid metabolism","titleAngle":0,"titleAlign":"right","titleBaseline":"middle","labels":false,"domain":false,"ticks":false,"titleFont":"Lato","titleFontWeight":"normal","titleFontSize":13,"titlePadding":6}}}}
    ],
    "resolve":{"axis":{"y":"independent"}}}
  ]}
 ]}
]},
{"spacing":0,"hconcat":[
 {"width":53,"height":1,"data":{"values":[]},"mark":"point"},
 {"spacing":0,"vconcat":[
  {"width":1,"height":7,"data":{"values":[]},"mark":"point"},
  {"title":{"text":"g","anchor":"start","fontSize":18,"dx":-40,"offset":-5},"spacing":0,"vconcat":[
   {"title":{"text":"hOL d4","fontSize":13.5,"offset":5},
    "width":80,"height":122,
    "data":{"values":[
     {"rep":"A","i":1,"v":35.5},{"rep":"A","i":2,"v":37},{"rep":"A","i":3,"v":44.7},
     {"rep":"B","i":1,"v":32},{"rep":"B","i":2,"v":19.6},{"rep":"B","i":3,"v":26.4},
     {"rep":"C","i":1,"v":18.3},{"rep":"C","i":2,"v":14.2},{"rep":"C","i":3,"v":18}
    ]},
    "mark":{"type":"line","color":"black","strokeWidth":1.5,"point":{"filled":true,"size":14,"color":"black"}},
    "encoding":{
     "x":{"field":"i","type":"quantitative","scale":{"domain":[0.18,3.72],"nice":false,"zero":false},
          "axis":{"values":[1,2,3],"labelExpr":"['NG','Fer-1 0.5','Fer-1 5'][datum.value-1]","labelAngle":-45,"labelAlign":"right","labelBaseline":"top","labelFontSize":8,"title":null,"tickSize":4,"labelPadding":1,"domainWidth":1.5,"tickWidth":1.5}},
     "y":{"field":"v","type":"quantitative","scale":{"domain":[0,100],"nice":false},
          "axis":{"values":[0,20,40,60,80,100],"title":"%PI+ CELLS","titleFontWeight":"normal","labelFontSize":8,"titleFontSize":9,"tickSize":4,"labelPadding":1,"titlePadding":17,"domainWidth":1.5,"tickWidth":1.5}},
     "detail":{"field":"rep"}}}
  ]}
 ]},
 {"width":50,"height":1,"data":{"values":[]},"mark":"point"},
 {"spacing":0,"vconcat":[
  {"width":1,"height":7,"data":{"values":[]},"mark":"point"},
  {"title":{"text":"h","anchor":"start","fontSize":18,"dx":-44,"offset":4},"spacing":0,"vconcat":[
   {"width":89,"height":124,
    "data":{"values":[
     {"g":"N1","i":1,"xp":1,"v":5350},{"g":"N1","i":1,"xp":0.83,"v":4800},{"g":"N1","i":1,"xp":1.17,"v":4800},{"g":"N1","i":1,"xp":1,"v":4780},{"g":"N1","i":1,"xp":1.08,"v":4500},{"g":"N1","i":1,"xp":0.92,"v":4180},{"g":"N1","i":1,"xp":1,"v":3960},
     {"g":"NG","i":2,"xp":2,"v":5470},{"g":"NG","i":2,"xp":2,"v":4560},{"g":"NG","i":2,"xp":1.82,"v":4080},{"g":"NG","i":2,"xp":2,"v":4150},{"g":"NG","i":2,"xp":2.18,"v":4080}
    ]},
    "layer":[
     {"mark":{"type":"bar","size":23,"fill":"white","stroke":"black","strokeWidth":2.5},
      "encoding":{
       "x":{"field":"i","type":"quantitative","scale":{"domain":[0.2,2.66],"nice":false,"zero":false},
            "axis":{"values":[1,2],"labelExpr":"['N1','NG'][datum.value-1]","labelAngle":0,"labelFontSize":9.5,"title":null,"tickSize":0,"labelPadding":5,"domainWidth":1.5}},
       "y":{"field":"v","aggregate":"mean","type":"quantitative","scale":{"domain":[0,6000],"nice":false},
            "axis":{"values":[0,1000,2000,3000,4000,5000,6000],"format":"d","title":"Enrichment score","labelOverlap":false,"labelFontSize":8.7,"titleFontSize":12,"tickSize":3,"labelPadding":0,"titlePadding":5,"domainWidth":1.5,"tickWidth":1.5}}}},
     {"mark":{"type":"point","filled":true,"size":35,"opacity":1},
      "encoding":{"x":{"field":"xp","type":"quantitative","title":null},"y":{"field":"v","type":"quantitative","axis":{"values":[0,1000,2000,3000,4000,5000,6000],"format":"d","title":"Enrichment score","labelOverlap":false,"labelFontSize":8.7,"titleFontSize":12,"tickSize":3,"labelPadding":0,"titlePadding":5,"domainWidth":1.5,"tickWidth":1.5}},
       "color":{"field":"g","type":"nominal","scale":{"domain":["N1","NG"],"range":["#EE1111","#1111CC"]},"legend":null}}},
     {"mark":{"type":"errorbar","extent":"stdev","orient":"vertical","ticks":{"size":10},"thickness":1.3},
      "encoding":{"x":{"field":"i","type":"quantitative","title":null},"y":{"field":"v","type":"quantitative","axis":{"values":[0,1000,2000,3000,4000,5000,6000],"format":"d","title":"Enrichment score","labelOverlap":false,"labelFontSize":8.7,"titleFontSize":12,"tickSize":3,"labelPadding":0,"titlePadding":5,"domainWidth":1.5,"tickWidth":1.5}},
       "color":{"field":"g","type":"nominal","scale":{"domain":["N1","NG"],"range":["#EE1111","#1111CC"]},"legend":null}}},
     {"data":{"values":[{"x1":1,"x2":2,"y":5940,"lab":"ns"}]},"layer":[
      {"mark":{"type":"rule","strokeWidth":2,"color":"black","xOffset":-13,"x2Offset":13},"encoding":{"x":{"field":"x1","type":"quantitative","title":null},"x2":{"field":"x2"},"y":{"field":"y","type":"quantitative","axis":{"values":[0,1000,2000,3000,4000,5000,6000],"format":"d","title":"Enrichment score","labelOverlap":false,"labelFontSize":8.7,"titleFontSize":12,"tickSize":3,"labelPadding":0,"titlePadding":5,"domainWidth":1.5,"tickWidth":1.5}}}},
      {"transform":[{"fold":["x1","x2"],"as":["k","xv"]},{"aggregate":[{"op":"mean","field":"xv","as":"xm"}],"groupby":["y","lab"]}],"mark":{"type":"text","baseline":"bottom","dy":-1,"fontSize":10,"fontWeight":"normal","color":"#333333"},"encoding":{"x":{"field":"xm","type":"quantitative","title":null},"y":{"field":"y","type":"quantitative","axis":{"values":[0,1000,2000,3000,4000,5000,6000],"format":"d","title":"Enrichment score","labelOverlap":false,"labelFontSize":8.7,"titleFontSize":12,"tickSize":3,"labelPadding":0,"titlePadding":5,"domainWidth":1.5,"tickWidth":1.5}},"text":{"field":"lab"}}}
     ]}
    ]}
  ]}
 ]},
 {"width":37,"height":1,"data":{"values":[]},"mark":"point"},
 {"spacing":0,"vconcat":[
  {"width":1,"height":7,"data":{"values":[]},"mark":"point"},
  {"title":{"text":"i","anchor":"start","fontSize":18,"dx":-25,"offset":0},"spacing":0,"vconcat":[
   {"width":87,"height":134,
    "data":{"values":[
     {"g":"CTL","i":1,"xp":0.86,"v":6630},{"g":"CTL","i":1,"xp":1.13,"v":6610},{"g":"CTL","i":1,"xp":1,"v":6450},{"g":"CTL","i":1,"xp":1,"v":6230},{"g":"CTL","i":1,"xp":1,"v":6070},
     {"g":"MS","i":2,"xp":2,"v":6910},{"g":"MS","i":2,"xp":2,"v":6570},{"g":"MS","i":2,"xp":2,"v":6370},{"g":"MS","i":2,"xp":2,"v":5340}
    ]},
    "layer":[
     {"mark":{"type":"bar","size":24,"fill":"white","stroke":"black","strokeWidth":2.5},
      "encoding":{
       "x":{"field":"i","type":"quantitative","scale":{"domain":[0.355,2.62],"nice":false,"zero":false},
            "axis":{"values":[1,2],"labelExpr":"['CTL','MS'][datum.value-1]","labelAngle":0,"labelFontSize":11,"title":null,"tickSize":0,"labelPadding":5,"domainWidth":1.5}},
       "y":{"field":"v","aggregate":"mean","type":"quantitative","scale":{"domain":[5000,7500],"nice":false,"zero":false},
            "axis":{"values":[5000,5500,6000,6500,7000,7500],"format":"d","title":"Enrichment score","labelOverlap":false,"labelFontSize":10,"titleFontSize":13,"tickSize":5,"labelPadding":2,"titlePadding":6,"domainWidth":1.5,"tickWidth":1.5}},
       "y2":{"datum":5000}}},
     {"mark":{"type":"point","filled":true,"size":40,"opacity":1},
      "encoding":{"x":{"field":"xp","type":"quantitative","title":null},"y":{"field":"v","type":"quantitative","axis":{"values":[5000,5500,6000,6500,7000,7500],"format":"d","title":"Enrichment score","labelOverlap":false,"labelFontSize":10,"titleFontSize":13,"tickSize":5,"labelPadding":2,"titlePadding":6,"domainWidth":1.5,"tickWidth":1.5}},
       "color":{"field":"g","type":"nominal","scale":{"domain":["CTL","MS"],"range":["#EE1111","#1111DD"]},"legend":null}}},
     {"mark":{"type":"errorbar","extent":"stdev","orient":"vertical","ticks":{"size":12},"thickness":1.3},
      "encoding":{"x":{"field":"i","type":"quantitative","title":null},"y":{"field":"v","type":"quantitative","axis":{"values":[5000,5500,6000,6500,7000,7500],"format":"d","title":"Enrichment score","labelOverlap":false,"labelFontSize":10,"titleFontSize":13,"tickSize":5,"labelPadding":2,"titlePadding":6,"domainWidth":1.5,"tickWidth":1.5}},
       "color":{"field":"g","type":"nominal","scale":{"domain":["CTL","MS"],"range":["#EE1111","#1111DD"]},"legend":null}}},
     {"data":{"values":[{"x1":1,"x2":2,"y":7100,"lab":"ns"}]},"layer":[
      {"mark":{"type":"rule","strokeWidth":2,"color":"black","xOffset":-12,"x2Offset":15},"encoding":{"x":{"field":"x1","type":"quantitative","title":null},"x2":{"field":"x2"},"y":{"field":"y","type":"quantitative","axis":{"values":[5000,5500,6000,6500,7000,7500],"format":"d","title":"Enrichment score","labelOverlap":false,"labelFontSize":10,"titleFontSize":13,"tickSize":5,"labelPadding":2,"titlePadding":6,"domainWidth":1.5,"tickWidth":1.5}}}},
      {"transform":[{"fold":["x1","x2"],"as":["k","xv"]},{"aggregate":[{"op":"mean","field":"xv","as":"xm"}],"groupby":["y","lab"]}],"mark":{"type":"text","baseline":"bottom","dy":-2,"fontSize":11,"fontWeight":"normal","color":"#333333"},"encoding":{"x":{"field":"xm","type":"quantitative","title":null},"y":{"field":"y","type":"quantitative","axis":{"values":[5000,5500,6000,6500,7000,7500],"format":"d","title":"Enrichment score","labelOverlap":false,"labelFontSize":10,"titleFontSize":13,"tickSize":5,"labelPadding":2,"titlePadding":6,"domainWidth":1.5,"tickWidth":1.5}},"text":{"field":"lab"}}}
     ]}
    ]}
  ]}
 ]}
]}
],
"config":{
 "view":{"stroke":null},
 "font":"Liberation Sans",
 "axis":{"grid":false,"labelOverlap":false,"domainColor":"black","tickColor":"black","labelColor":"black","titleColor":"black","labelFont":"Liberation Sans","titleFont":"Liberation Sans","labelFontWeight":"bold","titleFontWeight":"bold"},
 "title":{"font":"Liberation Sans","fontWeight":"bold","color":"black"},
 "text":{"font":"Liberation Sans"}
}
}
